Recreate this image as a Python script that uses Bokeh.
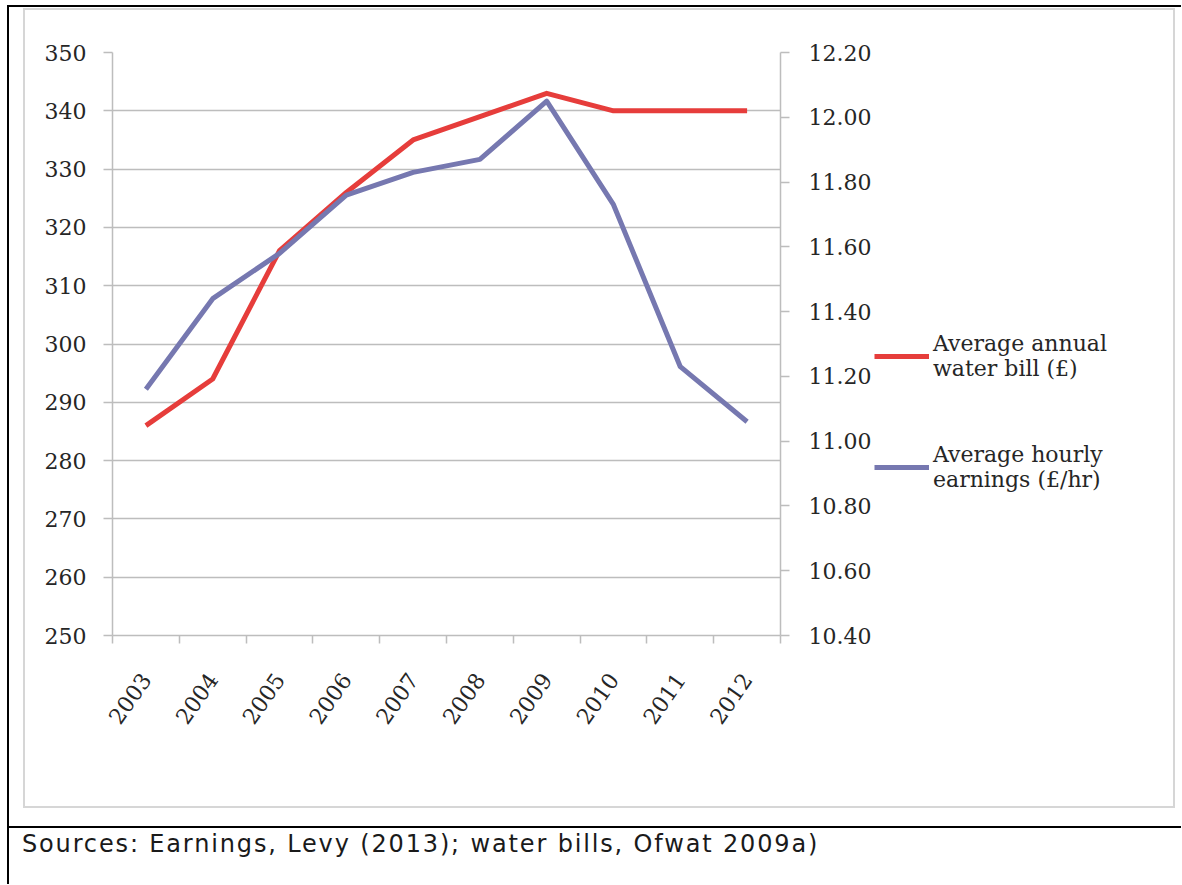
import math
from bokeh.plotting import figure
from bokeh.models import (Range1d, LinearAxis, FixedTicker, NumeralTickFormatter,
                          Legend, LegendItem, Div, Spacer)
from bokeh.layouts import row, column
from bokeh.embed import file_html
from bokeh.resources import INLINE

# ---------------- data ----------------
years = ["2003", "2004", "2005", "2006", "2007", "2008", "2009", "2010", "2011", "2012"]
water_bill = [286, 294, 316, 326, 335, 339, 343, 340, 340, 340]
hourly_earnings = [11.16, 11.44, 11.58, 11.76, 11.83, 11.87, 12.05, 11.73, 11.23, 11.06]
left_ticks = [250, 260, 270, 280, 290, 300, 310, 320, 330, 340, 350]
right_ticks = [10.40, 10.60, 10.80, 11.00, 11.20, 11.40, 11.60, 11.80, 12.00, 12.20]
bill_label = "Average annual\nwater bill (£)"
earn_label = "Average hourly\nearnings (£/hr)"
source_text = "Sources: Earnings, Levy (2013); water bills, Ofwat 2009a)"

# ---------------- style ----------------
RED = "#e63d3b"
BLUE = "#7678b0"
GRID = "#bdbdbd"
TXT = "#262626"
SERIF = "DejaVu Serif"
FS = "22px"

xs = [i + 0.5 for i in range(len(years))]

p = figure(width=849, height=796,
           x_range=Range1d(0, len(years)),
           y_range=Range1d(left_ticks[0], left_ticks[-1]),
           output_backend="svg", toolbar_location=None,
           min_border_left=87, min_border_right=91,
           min_border_top=42, min_border_bottom=171, margin=0)
p.outline_line_color = None
p.background_fill_color = "white"
p.border_fill_color = "white"
p.extra_y_ranges = {"earn": Range1d(right_ticks[0], right_ticks[-1])}

# grid
p.xgrid.visible = False
p.ygrid.grid_line_color = GRID
p.ygrid.grid_line_width = 1.5
p.ygrid.ticker = FixedTicker(ticks=left_ticks)

# left axis
ya = p.yaxis[0]
ya.ticker = FixedTicker(ticks=left_ticks, minor_ticks=[])
ya.axis_line_color = GRID
ya.axis_line_width = 1.5
ya.major_tick_line_color = GRID
ya.major_tick_line_width = 1.5
ya.major_tick_out = 9
ya.major_tick_in = 0
ya.minor_tick_line_color = None
ya.major_label_standoff = 17
ya.major_label_text_font = SERIF
ya.major_label_text_font_size = FS
ya.major_label_text_color = TXT

# bottom axis
xa = p.xaxis[0]
xa.ticker = FixedTicker(ticks=xs, minor_ticks=list(range(len(years) + 1)))
xa.major_label_overrides = {x: y for x, y in zip(xs, years)}
xa.axis_line_color = GRID
xa.axis_line_width = 1.5
xa.major_tick_out = 0
xa.major_tick_in = 0
xa.major_tick_line_color = None
xa.minor_tick_line_color = GRID
xa.minor_tick_line_width = 1.5
xa.minor_tick_out = 8
xa.minor_tick_in = 0
xa.major_label_orientation = math.radians(55)
xa.major_label_standoff = 32
xa.major_label_text_font = SERIF
xa.major_label_text_font_size = FS
xa.major_label_text_color = TXT

# right axis
ra = LinearAxis(y_range_name="earn",
                ticker=FixedTicker(ticks=right_ticks, minor_ticks=[]),
                formatter=NumeralTickFormatter(format="0.00"))
ra.axis_line_color = GRID
ra.axis_line_width = 1.5
ra.major_tick_line_color = GRID
ra.major_tick_line_width = 1.5
ra.major_tick_out = 9
ra.major_tick_in = 0
ra.minor_tick_line_color = None
ra.major_label_standoff = 19
ra.major_label_text_font = SERIF
ra.major_label_text_font_size = FS
ra.major_label_text_color = TXT
p.add_layout(ra, "right")

# lines
p.line(xs, water_bill, line_color=RED, line_width=5, line_join="round")
p.line(xs, hourly_earnings, line_color=BLUE, line_width=5,
       line_join="round", y_range_name="earn")

# ---------------- legend panel (keys drawn with the series styles) ----------------
pl = figure(width=299, height=796, x_range=Range1d(0, 1), y_range=Range1d(0, 1),
            output_backend="svg", toolbar_location=None,
            x_axis_type=None, y_axis_type=None,
            min_border=0, margin=0)
pl.outline_line_color = None
pl.grid.visible = False
pl.background_fill_color = "white"
pl.border_fill_color = "white"
k_bill = pl.line(xs, water_bill, line_color=RED, line_width=5, visible=False)
k_earn = pl.line(xs, hourly_earnings, line_color=BLUE, line_width=5, visible=False)
legend = Legend(items=[LegendItem(label=bill_label, renderers=[k_bill]),
                       LegendItem(label=earn_label, renderers=[k_earn])],
                location=(0, 143), orientation="vertical",
                border_line_color=None, background_fill_alpha=0,
                inactive_fill_alpha=0,
                padding=0, margin=0, spacing=61,
                glyph_width=55, glyph_height=20, label_standoff=4,
                label_text_font=SERIF, label_text_font_size=FS,
                label_text_color=TXT, label_text_line_height=1.45)
pl.add_layout(legend, "center")

# ---------------- frame / borders ----------------
GRAYBOX = "#d6d6d6"
def bar(w, h, color):
    return Div(text="", width=w, height=h, margin=0,
               styles={"background-color": color})

gray_box = row(bar(2, 800, GRAYBOX),
               column(bar(1148, 2, GRAYBOX),
                      row(p, pl, margin=0, spacing=0),
                      bar(1148, 2, GRAYBOX), margin=0, spacing=0),
               bar(2, 800, GRAYBOX), margin=0, spacing=0)

src = Div(text=('<div style="padding:4px 0 0 13px; font-family:\'DejaVu Sans\'; '
                'font-size:24px; line-height:24px; letter-spacing:1.85px; color:#1a1a1a; '
                'white-space:nowrap;">' + source_text + '</div>'),
          width=1172, height=56, margin=0)

inner = column(bar(1172, 2, "black"),
               Spacer(width=1172, height=1, margin=0),
               row(Spacer(width=14, height=800, margin=0), gray_box, margin=0, spacing=0),
               Spacer(width=1172, height=18, margin=0),
               bar(1172, 2, "black"),
               src, margin=0, spacing=0)
body = row(Spacer(width=7, height=879, margin=0), bar(2, 879, "black"), inner,
           margin=0, spacing=0)
layout = column(Spacer(width=1181, height=5, margin=0), body, margin=0, spacing=0)

open("out.html", "w").write(file_html(layout, INLINE))
